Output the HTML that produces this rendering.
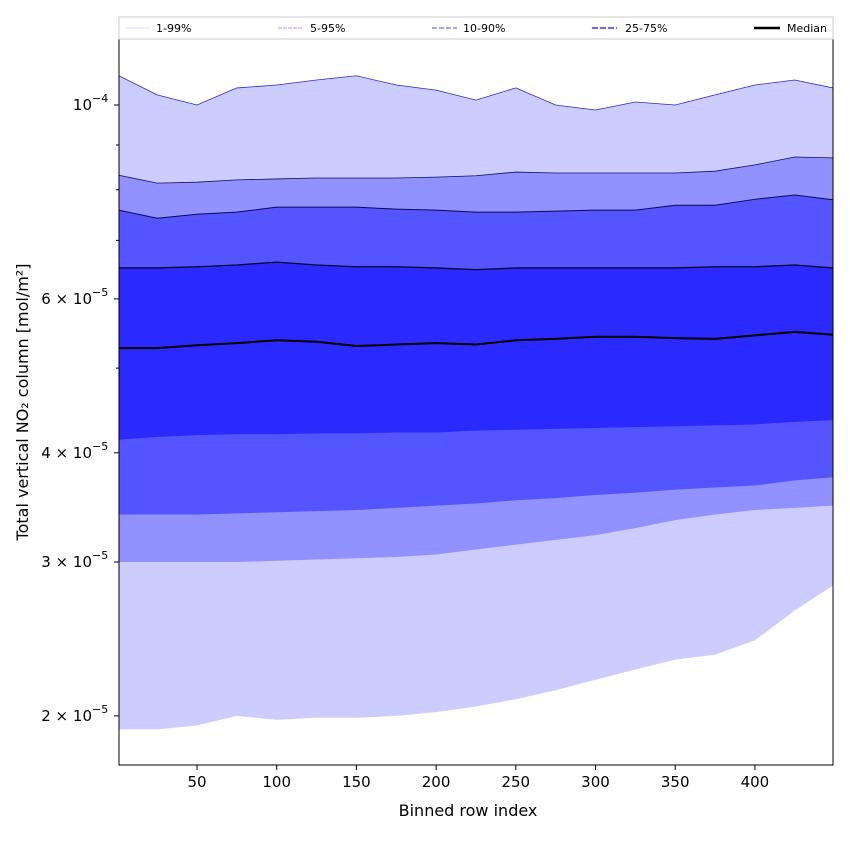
<!DOCTYPE html>
<html><head><meta charset="utf-8"><style>
body{margin:0;background:#fff;font-family:"Liberation Sans","DejaVu Sans",sans-serif}
</style></head><body>
<svg id="chart" width="850" height="850" xmlns="http://www.w3.org/2000/svg" font-family="DejaVu Sans, Liberation Sans, sans-serif">
<defs><clipPath id="plotclip"><rect x="119" y="39" width="714" height="726"/></clipPath></defs>
<g id="bands" clip-path="url(#plotclip)"></g>
<g id="lines" clip-path="url(#plotclip)"></g>
<rect x="119" y="39" width="714" height="726" fill="none" stroke="#000" stroke-width="1"/>
<g id="axes" font-size="15"></g>
<text x="468" y="816" text-anchor="middle" font-size="16">Binned row index</text>
<text transform="translate(28,402) rotate(-90)" text-anchor="middle" font-size="16">Total vertical NO₂ column [mol/m²]</text>
<g>
<rect x="119" y="17" width="714" height="22" fill="#fff" stroke="#ccc"/>
<g><line x1="125" y1="28" x2="150" y2="28" stroke="#dcdcff" stroke-width="1"/><text x="156" y="32" font-size="11">1-99%</text></g>
<g><line x1="278" y1="28" x2="303" y2="28" stroke="#a0a0ff" stroke-width="1" stroke-dasharray="4,1"/><text x="310" y="32" font-size="11">5-95%</text></g>
<g><line x1="432" y1="28" x2="457" y2="28" stroke="#7070ff" stroke-width="1.2" stroke-dasharray="5,2"/><text x="463" y="32" font-size="11">10-90%</text></g>
<g><line x1="592" y1="28" x2="617" y2="28" stroke="#5050ff" stroke-width="1.8" stroke-dasharray="6,2"/><text x="625" y="32" font-size="11">25-75%</text></g>
<g><line x1="754" y1="28" x2="780" y2="28" stroke="#000" stroke-width="2.5"/><text x="787" y="32" font-size="11">Median</text></g>
</g>
</svg>
<script>
const rows=[1,25,50,75,100,125,150,175,200,225,250,275,300,325,350,375,400,425,449];
const p99=[10.8,10.27,10.0,10.46,10.54,10.68,10.8,10.54,10.4,10.13,10.46,10.0,9.87,10.08,10.0,10.27,10.54,10.68,10.46];
const p95=[8.31,8.14,8.16,8.21,8.23,8.25,8.25,8.25,8.27,8.30,8.38,8.36,8.36,8.36,8.36,8.40,8.54,8.72,8.70];
const p90=[7.58,7.42,7.50,7.54,7.64,7.64,7.64,7.60,7.58,7.54,7.54,7.56,7.58,7.58,7.68,7.68,7.80,7.89,7.79];
const p75=[6.51,6.51,6.53,6.56,6.61,6.56,6.53,6.53,6.51,6.48,6.51,6.51,6.51,6.51,6.51,6.53,6.53,6.56,6.51];
const p50=[5.27,5.27,5.31,5.34,5.38,5.36,5.30,5.32,5.34,5.32,5.38,5.40,5.43,5.43,5.41,5.40,5.45,5.50,5.46];
const p25=[4.14,4.17,4.19,4.20,4.20,4.21,4.21,4.22,4.22,4.24,4.25,4.26,4.27,4.28,4.29,4.30,4.31,4.34,4.36];
const p10=[3.40,3.40,3.40,3.41,3.42,3.43,3.44,3.46,3.48,3.50,3.53,3.55,3.58,3.60,3.63,3.65,3.67,3.72,3.75];
const p5=[3.0,3.0,3.0,3.0,3.01,3.02,3.03,3.04,3.06,3.10,3.14,3.18,3.22,3.28,3.35,3.40,3.44,3.46,3.48];
const p1=[1.93,1.93,1.95,2.00,1.98,1.99,1.99,2.0,2.02,2.05,2.09,2.14,2.20,2.26,2.32,2.35,2.44,2.64,2.82];
const xTicks=[50,100,150,200,250,300,350,400];
const yTicks=[2,3,4,6,10];
const yTickLabels=["2 \u00d7 10","3 \u00d7 10","4 \u00d7 10","6 \u00d7 10","10"];
const yTickExp=["\u22125","\u22125","\u22125","\u22125","\u22124"];
const yMinor=[5,7,8,9];
const NS="http://www.w3.org/2000/svg";
function xs(v){return 117.3+v*1.594;}
function ys(v){return 105-874*Math.log10(v/10);}
function mk(tag,attrs,parent){const e=document.createElementNS(NS,tag);for(const k in attrs)e.setAttribute(k,attrs[k]);parent.appendChild(e);return e;}
const bands=document.getElementById('bands'),lines=document.getElementById('lines'),axes=document.getElementById('axes');
function band(lo,hi,color,name){
  let d='M'+rows.map((r,i)=>xs(r)+','+ys(hi[i])).join('L');
  for(let i=rows.length-1;i>=0;i--)d+='L'+xs(rows[i])+','+ys(lo[i]);
  const p=mk('path',{d:d+'Z',fill:color},bands);
  
  
}
band(p1,p99,'#ccccff','band-1-99');
band(p5,p95,'#9191ff','band-5-95');
band(p10,p90,'#5555ff','band-10-90');
band(p25,p75,'#2a2aff','band-25-75');
function line(arr,color,w,name){
  const p=mk('polyline',{points:rows.map((r,i)=>xs(r)+','+ys(arr[i])).join(' '),fill:'none',stroke:color,'stroke-width':w},lines);
  
  
}
line(p99,'#2a2acc',0.8,'line-p99');
line(p95,'#101060',0.8,'line-p95');
line(p90,'#0a0a50',1,'line-p90');
line(p75,'#050530',1.3,'line-p75');
line(p50,'#000',2,'line-median');
xTicks.forEach(t=>{
  const g=mk('g',{},axes);
  
  
  mk('line',{x1:xs(t),x2:xs(t),y1:765,y2:770,stroke:'#000'},g);
  const tx=mk('text',{x:xs(t),y:787,'text-anchor':'middle'},g);tx.textContent=t;
});
yTicks.forEach((t,i)=>{
  const g=mk('g',{},axes);
  
  
  const y=ys(t);
  mk('line',{x1:114,x2:119,y1:y,y2:y,stroke:'#000'},g);
  const tx=mk('text',{x:92,y:y+5,'text-anchor':'end'},g);tx.textContent=yTickLabels[i];
  const ex=mk('text',{x:92,y:y-3,'font-size':'11'},g);ex.textContent=yTickExp[i];
});
yMinor.forEach(t=>{
  const l=mk('line',{x1:116,x2:119,y1:ys(t),y2:ys(t),stroke:'#000'},axes);
  
  
});
</script>
</body></html>
